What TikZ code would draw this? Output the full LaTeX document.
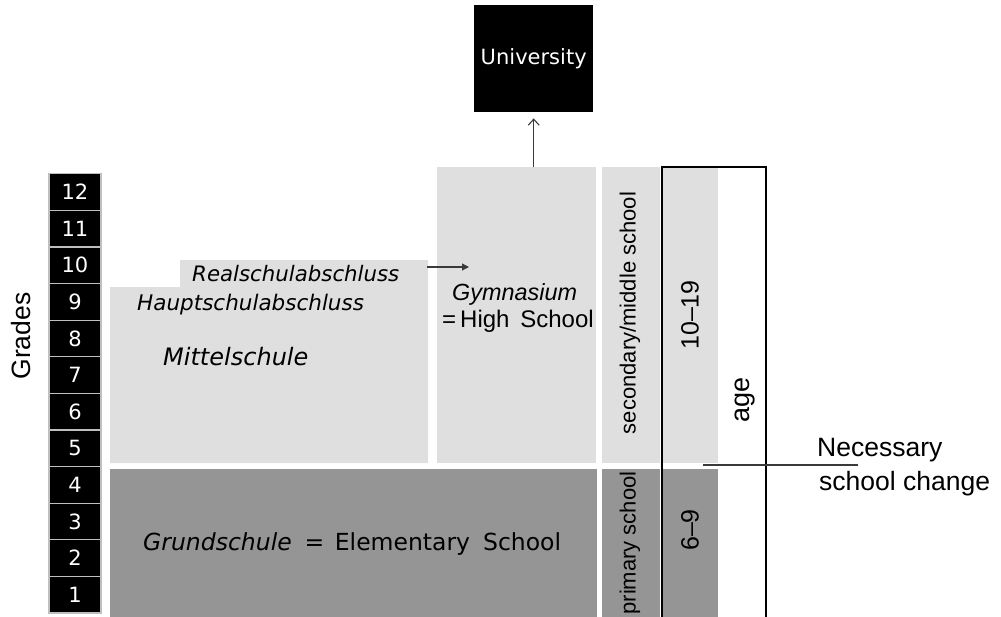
\documentclass[tikz,border=0pt]{standalone}
\usepackage{fontspec}
\setmainfont{DejaVu Sans}
\newfontfamily\arialfont{Liberation Sans}
\usetikzlibrary{arrows.meta}
\definecolor{lightfill}{HTML}{DFDFDF}
\definecolor{darkfill}{HTML}{959595}
\definecolor{linegray}{HTML}{3A3A3A}
\tikzset{
  fs/.style={font=\fontsize{#1}{#1}\selectfont},
  gradebox/.style={draw=white!75!black, line width=1.2pt, fill=black, text=white,
    minimum width=52pt, minimum height=36.6pt, inner sep=0pt,
    font=\fontsize{21}{21}\selectfont},
  region/.style={draw=none, inner sep=0pt, anchor=north west},
  vlabel/.style={rotate=90, inner sep=0pt, font=\arialfont\fontsize{#1}{#1}\selectfont},
  conn/.style={draw=linegray, line width=1.1pt},
}
\begin{document}
\begin{tikzpicture}[x=1pt, y=-1pt]
\useasboundingbox (0,0) rectangle (1001,616);
\clip (0,0) rectangle (1001,616);

% grade column, 1 at the bottom to 12 at the top
\foreach \k in {1,...,12}
  \node[gradebox] (g\k) at (75, {613-(\k-0.5)*36.6}) {\k};
\node[vlabel=26.5] (grades) at (21,336) {Grades};

% Mittelschule block with the Realschule step
\fill[lightfill] (110,463) -- (110,287) -- (180,287) -- (180,260)
  -- (428,260) -- (428,463) -- cycle;
\node[anchor=base west, inner sep=0pt, fs=21.3] (real) at (192,281) {\itshape Realschulabschluss};
\node[anchor=base west, inner sep=0pt, fs=21.5] (haupt) at (137,310) {\itshape Hauptschulabschluss};
\node[anchor=base west, inner sep=0pt, fs=24] (mittel) at (163,365) {\itshape Mittelschule};

% Grundschule
\node[region, fill=darkfill, minimum width=487pt, minimum height=150pt] (grund) at (110,469) {};
\node[anchor=base west, inner sep=0pt, fs=23.5] (grundtxt) at (143,550)
  {\textit{Grundschule}\hspace{0.55em}=\hspace{0.45em}Elementary\hspace{0.55em}School};

% Gymnasium
\node[region, fill=lightfill, minimum width=159pt, minimum height=296pt] (gym) at (437,167) {};
\node[anchor=base west, inner sep=0pt, font=\arialfont\itshape\fontsize{23.4}{23.4}\selectfont] (gymtxt) at (452,300) {Gymnasium};
\node[anchor=base west, inner sep=0pt, font=\arialfont\fontsize{24}{24}\selectfont] (hs) at (442,327) {=\,High\hspace{0.45em}School};

% University
\node[region, fill=black, minimum width=119pt, minimum height=107pt] (uni) at (474,5) {};
\node[text=white, inner sep=0pt, fs=21] (unitxt) at (uni.center) {University};

% school type column
\node[region, fill=lightfill, minimum width=58pt, minimum height=296pt] (sec) at (602,167) {};
\node[region, fill=darkfill, minimum width=58pt, minimum height=150pt] (prim) at (602,469) {};
\node[vlabel=22] (sectxt) at (630,313) {secondary/middle school};
\node[vlabel=22] (primtxt) at (630,543) {primary school};

% age column
\node[region, fill=lightfill, minimum width=56pt, minimum height=296pt] (agehi) at (662,167) {};
\node[region, fill=darkfill, minimum width=56pt, minimum height=150pt] (agelo) at (662,469) {};
\draw[line width=1.1pt] (662,630) -- (662,167) -- (766,167) -- (766,630);
\node[vlabel=25] (a1019) at (690,315) {10\textendash 19};
\node[vlabel=25] (a69) at (690,530) {6\textendash 9};
\node[vlabel=27] (agetxt) at (745,400) {age};

% connectors
\draw[conn, -{Straight Barb[length=6pt, width=11pt]}] (uni.south |- gym.north) -- ([yshift=-6pt]uni.south);
\coordinate (rsfrom) at (427,267);
\coordinate (rsto) at (469,267);
\draw[conn, -{Triangle[length=7pt, width=7pt]}] (rsfrom) -- (rsto);
\coordinate (chgfrom) at (703,465);
\coordinate (chgto) at (858,465);
\draw[conn] (chgfrom) -- (chgto);
\node[anchor=base west, inner sep=0pt, font=\arialfont\fontsize{26.5}{26.5}\selectfont] (nec) at (817,456) {Necessary};
\node[anchor=base west, inner sep=0pt, font=\arialfont\fontsize{26.5}{26.5}\selectfont] (chg) at (819,490) {school change};
\end{tikzpicture}
\end{document}
